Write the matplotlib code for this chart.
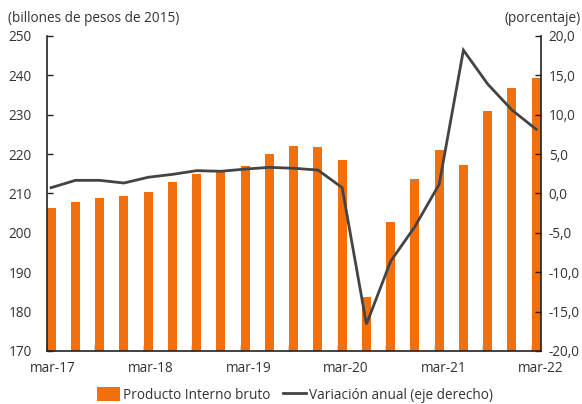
import matplotlib
matplotlib.use("Agg")
import matplotlib.pyplot as plt
from matplotlib.ticker import FuncFormatter, FixedLocator
import numpy as np

plt.rcParams['font.family'] = ['Open Sans', 'DejaVu Sans']

quarters = ["mar-17", "jun-17", "sep-17", "dic-17", "mar-18", "jun-18", "sep-18", "dic-18",
            "mar-19", "jun-19", "sep-19", "dic-19", "mar-20", "jun-20", "sep-20", "dic-20",
            "mar-21", "jun-21", "sep-21", "dic-21", "mar-22"]
pib = [206.4, 207.8, 208.9, 209.4, 210.4, 213.0, 215.0, 215.4, 217.0, 220.1, 222.1,
       221.9, 218.5, 183.8, 202.7, 213.7, 221.0, 217.2, 230.9, 236.8, 239.4]
variacion = [0.74, 1.67, 1.67, 1.33, 2.06, 2.43, 2.9, 2.82, 3.1, 3.32, 3.2,
             2.98, 0.74, -16.6, -8.6, -4.2, 1.17, 18.2, 13.9, 10.6, 8.15]
xlabels = ["mar-17", "mar-18", "mar-19", "mar-20", "mar-21", "mar-22"]

ORANGE = "#F07010"
LINE = "#444444"
TXT = "#333333"
FS = 9.8

fig = plt.figure(figsize=(5.82, 4.04), dpi=100)
ax = fig.add_axes([0.0802, 0.1312, 0.9296 - 0.0802, 0.9109 - 0.1312])
ax2 = ax.twinx()

x = np.arange(len(quarters))
bars = ax.bar(x, pib, width=0.37, color=ORANGE, label="Producto Interno bruto", zorder=2)
line, = ax2.plot(x, variacion, color=LINE, lw=2.0, label="Variación anual (eje derecho)",
                 solid_joinstyle='miter', zorder=3)

ax.set_xlim(-0.185, 20.185)
ax.set_ylim(170, 250)
ax2.set_ylim(-20, 20)
ax.set_yticks(np.arange(170, 251, 10))
ax2.set_yticks(np.arange(-20, 21, 5))
ax2.yaxis.set_major_formatter(FuncFormatter(lambda v, p: f"{v:.1f}".replace(".", ",")))

# x ticks: marks at every two quarters, labels yearly
ax.xaxis.set_major_locator(FixedLocator([2 * k - 0.185 for k in range(11)]))
ax.set_xticklabels([])
label_pos = [0.08, 4.1, 8.13, 12.15, 16.18, 20.2]
ax.set_xticks(label_pos, minor=True)
ax.set_xticklabels(xlabels, minor=True)

ax.tick_params(axis='x', which='major', direction='in', length=4, width=1, color='#222222')
ax.tick_params(axis='x', which='minor', length=0, pad=7, labelsize=FS, labelcolor=TXT)
ax.tick_params(axis='y', direction='in', length=4, width=1, pad=10.5, labelsize=FS,
               labelcolor=TXT, color='#222222')
ax2.tick_params(axis='y', direction='in', length=4, width=1, pad=5.5, labelsize=FS,
                labelcolor=TXT, color='#222222')

for a in (ax, ax2):
    a.spines['top'].set_visible(False)
    for s in ('left', 'right', 'bottom'):
        a.spines[s].set_color('#222222')
        a.spines[s].set_linewidth(1.2)
ax2.spines['left'].set_visible(False)
ax2.spines['bottom'].set_visible(False)
ax.spines['right'].set_visible(False)

fig.text(8 / 582, 1 - 18 / 404, "(billones de pesos de 2015)", ha='left', va='center',
         fontsize=FS, color=TXT)
fig.text(581 / 582, 1 - 18 / 404, "(porcentaje)", ha='right', va='center',
         fontsize=FS, color=TXT)

fig.legend([bars, line], ["Producto Interno bruto", "Variación anual (eje derecho)"],
           loc='center', bbox_to_anchor=(295 / 582, 1 - 395 / 404), ncol=2, frameon=False,
           fontsize=FS, labelcolor=TXT, handlelength=1.7, handleheight=1.2,
           handletextpad=0.2, columnspacing=0.9)

fig.savefig("out.png", dpi=100)
